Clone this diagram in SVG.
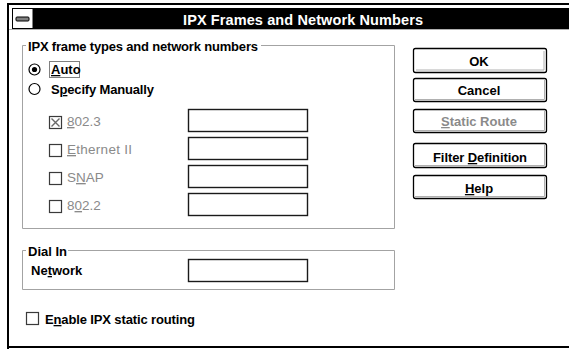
<svg xmlns="http://www.w3.org/2000/svg" width="569" height="349" viewBox="0 0 569 349">
<style>
.t{font-family:"Liberation Sans",Arial,sans-serif;font-size:13px;font-weight:bold;fill:#000}
.dis{fill:#8a8a8a}
.reg{font-weight:normal}
.u{text-decoration:underline}
.c{text-anchor:middle}
.box{fill:#fff;stroke:#1a1a1a;stroke-width:1.4}
.grp{fill:none;stroke:#a3a3a3;stroke-width:1}
.btn{fill:#fff;stroke:#000;stroke-width:1.3}
.sh{fill:none;stroke:#b0b0b0;stroke-width:1}
.cb{fill:#fff;stroke:#3a3a3a;stroke-width:1.2}
.rb{fill:#fff;stroke:#000;stroke-width:1.2}
</style>
<rect width="569" height="349" fill="#fff"/>
<g id="window">
  <path d="M8 349 V4 H569" fill="none" stroke="#000" stroke-width="2"/>
  <path d="M8 347 H569" fill="none" stroke="#000" stroke-width="2"/>
  <rect x="33" y="8" width="536" height="21" fill="#000"/>
  <rect x="12.5" y="8.5" width="20.5" height="20" fill="#fff" stroke="#000" stroke-width="1"/>
  <rect x="16" y="17" width="13" height="4" rx="1" fill="#808080" stroke="#000" stroke-width="1"/>
  <line x1="9" y1="29.5" x2="569" y2="29.5" stroke="#b0b0b0" stroke-width="1"/>
  <text class="t c" x="303" y="25" style="fill:#fff;font-size:14.5px" textLength="240">IPX Frames and Network Numbers</text>
</g>
<g id="frame-group">
  <path class="grp" d="M26 45.5 H22.5 V228.5 H394.5 V45.5 H261"/>
  <text class="t" x="28" y="51" textLength="230">IPX frame types and network numbers</text>
</g>
<g id="radio-auto">
  <circle class="rb" cx="34.5" cy="69.5" r="5.5"/>
  <circle cx="34.5" cy="69.5" r="2.6" fill="#000"/>
  <rect x="49.5" y="61.5" width="30" height="16" fill="none" stroke="#000" stroke-width="1" stroke-dasharray="1,1"/>
  <text class="t" x="51" y="74"><tspan class="u">A</tspan>uto</text>
</g>
<g id="radio-manual">
  <circle class="rb" cx="34.5" cy="89" r="5.5"/>
  <text class="t" x="51" y="94" textLength="103">S<tspan class="u">p</tspan>ecify Manually</text>
</g>
<g id="cb-8023">
  <rect class="cb" x="49.5" y="116.5" width="12" height="12"/>
  <path d="M51.5 118.5 L59.5 126.5 M59.5 118.5 L51.5 126.5" stroke="#6a6a6a" stroke-width="1.4"/>
  <text class="t dis reg" x="67" y="126" style="font-size:13.5px"><tspan class="u">8</tspan>02.3</text>
  <rect class="box" x="188.5" y="109.5" width="119" height="22"/>
</g>
<g id="cb-ethernet">
  <rect class="cb" x="49.5" y="144.5" width="12" height="12"/>
  <text class="t dis reg" x="67" y="154" style="font-size:13.5px" textLength="65"><tspan class="u">E</tspan>thernet II</text>
  <rect class="box" x="188.5" y="137.5" width="119" height="22"/>
</g>
<g id="cb-snap">
  <rect class="cb" x="49.5" y="172.5" width="12" height="12"/>
  <text class="t dis reg" x="67" y="182" style="font-size:13.5px">S<tspan class="u">N</tspan>AP</text>
  <rect class="box" x="188.5" y="165.5" width="119" height="22"/>
</g>
<g id="cb-8022">
  <rect class="cb" x="49.5" y="200.5" width="12" height="12"/>
  <text class="t dis reg" x="67" y="210" style="font-size:13.5px">8<tspan class="u">0</tspan>2.2</text>
  <rect class="box" x="188.5" y="193.5" width="119" height="22"/>
</g>
<g id="dialin-group">
  <path class="grp" d="M26 250.5 H22.5 V289.5 H394.5 V250.5 H68"/>
  <text class="t" x="28" y="256">Dial In</text>
  <text class="t" x="31" y="275">Ne<tspan class="u">t</tspan>work</text>
  <rect class="box" x="188.5" y="259.5" width="119" height="22"/>
</g>
<g id="cb-enable">
  <rect class="cb" x="26.5" y="312.5" width="12" height="12"/>
  <text class="t" x="45" y="324" textLength="150">E<tspan class="u">n</tspan>able IPX static routing</text>
</g>
<g id="btn-ok">
  <rect class="btn" x="413.5" y="48.5" width="133" height="24" rx="2" stroke-width="2.2"/>
  <path class="sh" d="M416 70 H544 V51"/>
  <text class="t c" x="479" y="66">OK</text>
</g>
<g id="btn-cancel">
  <rect class="btn" x="413.5" y="78.5" width="133" height="23" rx="2"/>
  <path class="sh" d="M415 99.5 H544.5 V80"/>
  <text class="t c" x="479" y="95">Cancel</text>
</g>
<g id="btn-static">
  <rect class="btn" x="413.5" y="109.5" width="133" height="23" rx="2" stroke="#333"/>
  <path class="sh" d="M415 130.5 H544.5 V111"/>
  <text class="t c dis" x="479" y="126"><tspan class="u">S</tspan>tatic Route</text>
</g>
<g id="btn-filter">
  <rect class="btn" x="413.5" y="143.5" width="133" height="24" rx="2"/>
  <path class="sh" d="M415 165.5 H544.5 V145"/>
  <text class="t c" x="480" y="162" textLength="94">Filter <tspan class="u">D</tspan>efinition</text>
</g>
<g id="btn-help">
  <rect class="btn" x="413.5" y="175.5" width="133" height="23" rx="2"/>
  <path class="sh" d="M415 196.5 H544.5 V177"/>
  <text class="t c" x="479" y="193"><tspan class="u">H</tspan>elp</text>
</g>
</svg>
